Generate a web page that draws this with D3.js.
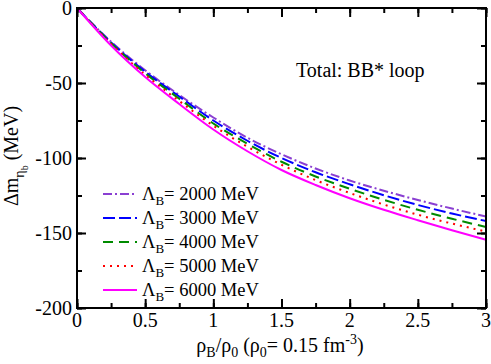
<!DOCTYPE html>
<html>
<head>
<meta charset="utf-8">
<script src="https://cdn.jsdelivr.net/npm/d3@7"></script>
<style>
  body { margin: 0; background: #fff; }
  svg text { font-family: "Liberation Serif", "Times New Roman", serif; fill: #000; }
  .axis path { display: none; }
  .axis line { stroke: #000; stroke-width: 2; }
  .curve { fill: none; stroke-width: 2; }
</style>
</head>
<body>
<div id="chart"></div>
<script>
// density rho_B/rho_0
var density = [0, 0.25, 0.5, 0.75, 1, 1.25, 1.5, 1.75, 2, 2.25, 2.5, 2.75, 3];

// mass shift (MeV) for each cutoff
var lambda2000 = [0, -22.5, -41.5, -58, -73, -86.5, -97.5, -107, -115, -121.8, -128, -133.7, -139];
var lambda3000 = [0, -23, -42.5, -59, -75, -88.5, -100, -109.5, -117.5, -124.8, -131.3, -137, -142];
var lambda4000 = [0, -23.5, -43.5, -60.5, -77, -90.5, -102.5, -112.3, -120.5, -127.9, -134.5, -140.5, -146];
var lambda5000 = [0, -24, -44.5, -62, -78.5, -92.5, -104.5, -114.7, -123.3, -131, -137.8, -143.7, -149];
var lambda6000 = [0, -25, -46, -64, -81, -95.5, -108, -118, -126.8, -134.5, -141.5, -148.2, -154.5];

var legendLabels = ['2000', '3000', '4000', '5000', '6000'];
var xTicks = [0, 0.5, 1, 1.5, 2, 2.5, 3];
var xTickLabels = ['0', '0.5', '1', '1.5', '2', '2.5', '3'];
var yTicks = [0, -50, -100, -150, -200];
var yTickLabels = ['0', '-50', '-100', '-150', '-200'];

var width = 491, height = 364,
    mLeft = 77, mRight = 486, mTop = 8, mBottom = 308;

var series = [
  {name: legendLabels[0], values: lambda2000, color: '#8a3fd2', dash: '9,3,2,3'},
  {name: legendLabels[1], values: lambda3000, color: '#0000ff', dash: '12,4'},
  {name: legendLabels[2], values: lambda4000, color: '#008b00', dash: '10,6'},
  {name: legendLabels[3], values: lambda5000, color: '#ff0000', dash: '2,5'},
  {name: legendLabels[4], values: lambda6000, color: '#ff00ff', dash: null}
];

var x = d3.scaleLinear().domain([0, 3]).range([mLeft, mRight]);
var y = d3.scaleLinear().domain([-200, 0]).range([mBottom, mTop]);

var svg = d3.select('#chart').append('svg')
    .attr('width', width)
    .attr('height', height);

// curves
var line = d3.line()
    .x(function (d, i) { return x(density[i]); })
    .y(function (d) { return y(d); })
    .curve(d3.curveMonotoneX);

svg.append('g').selectAll('path')
    .data(series)
    .enter().append('path')
    .attr('class', 'curve')
    .attr('d', function (d) { return line(d.values); })
    .attr('stroke', function (d) { return d.color; })
    .attr('stroke-dasharray', function (d) { return d.dash; });

// minor ticks, all four sides
var minorX = d3.range(0, 3.01, 0.25), minorY = d3.range(-200, 0.1, 25);
svg.append('g').attr('class', 'axis').attr('transform', 'translate(0,' + mBottom + ')')
    .call(d3.axisBottom(x).tickValues(minorX).tickSize(-5).tickFormat(''));
svg.append('g').attr('class', 'axis').attr('transform', 'translate(0,' + mTop + ')')
    .call(d3.axisTop(x).tickValues(minorX).tickSize(-5).tickFormat(''));
svg.append('g').attr('class', 'axis').attr('transform', 'translate(' + mLeft + ',0)')
    .call(d3.axisLeft(y).tickValues(minorY).tickSize(-5).tickFormat(''));
svg.append('g').attr('class', 'axis').attr('transform', 'translate(' + mRight + ',0)')
    .call(d3.axisRight(y).tickValues(minorY).tickSize(-5).tickFormat(''));

// major ticks
svg.append('g').attr('class', 'axis').attr('transform', 'translate(0,' + mBottom + ')')
    .call(d3.axisBottom(x).tickValues(xTicks).tickSize(-9).tickFormat(''));
svg.append('g').attr('class', 'axis').attr('transform', 'translate(0,' + mTop + ')')
    .call(d3.axisTop(x).tickValues(xTicks).tickSize(-9).tickFormat(''));
svg.append('g').attr('class', 'axis').attr('transform', 'translate(' + mLeft + ',0)')
    .call(d3.axisLeft(y).tickValues(yTicks).tickSize(-9).tickFormat(''));
svg.append('g').attr('class', 'axis').attr('transform', 'translate(' + mRight + ',0)')
    .call(d3.axisRight(y).tickValues(yTicks).tickSize(-9).tickFormat(''));

// tick labels
svg.append('g').selectAll('text')
    .data(xTicks)
    .enter().append('text')
    .attr('x', function (d) { return x(d); })
    .attr('y', mBottom + 19)
    .attr('text-anchor', 'middle')
    .attr('font-size', 20)
    .text(function (d, i) { return xTickLabels[i]; });

svg.append('g').selectAll('text')
    .data(yTicks)
    .enter().append('text')
    .attr('x', mLeft - 5)
    .attr('y', function (d) { return y(d) + 7; })
    .attr('text-anchor', 'end')
    .attr('font-size', 20)
    .text(function (d, i) { return yTickLabels[i]; });

// frame
svg.append('rect')
    .attr('x', mLeft).attr('y', mTop)
    .attr('width', mRight - mLeft).attr('height', mBottom - mTop)
    .attr('fill', 'none').attr('stroke', '#000').attr('stroke-width', 2);

// annotation
svg.append('text')
    .attr('x', 296).attr('y', 77)
    .attr('font-size', 20)
    .text('Total: BB* loop');

// x axis title
var xt = svg.append('text')
    .attr('x', 280).attr('y', 352)
    .attr('text-anchor', 'middle')
    .attr('font-size', 20);
xt.append('tspan').text('ρ');
xt.append('tspan').attr('font-size', 14).attr('dy', 5).text('B');
xt.append('tspan').attr('dy', -5).text('/ρ');
xt.append('tspan').attr('font-size', 14).attr('dy', 5).text('0');
xt.append('tspan').attr('dy', -5).text(' (ρ');
xt.append('tspan').attr('font-size', 14).attr('dy', 5).text('0');
xt.append('tspan').attr('dy', -5).text('= 0.15 fm');
xt.append('tspan').attr('font-size', 14).attr('dy', -8).text('-3');
xt.append('tspan').attr('dy', 8).text(')');

// y axis title
var yt = svg.append('text')
    .attr('transform', 'translate(18,156) rotate(-90)')
    .attr('text-anchor', 'middle')
    .attr('font-size', 20);
yt.append('tspan').text('Δm');
yt.append('tspan').attr('font-size', 14).attr('dy', 6).text('η');
yt.append('tspan').attr('font-size', 10).attr('dy', 4).text('b');
yt.append('tspan').attr('dy', -10).text(' (MeV)');

// legend
var legend = svg.append('g').selectAll('g')
    .data(series)
    .enter().append('g')
    .attr('transform', function (d, i) { return 'translate(0,' + (194 + i * 24) + ')'; });

legend.append('line')
    .attr('x1', 103).attr('x2', 137)
    .attr('stroke', function (d) { return d.color; })
    .attr('stroke-width', 2)
    .attr('stroke-dasharray', function (d) { return d.dash; });

var lt = legend.append('text')
    .attr('x', 142).attr('y', 6)
    .attr('font-size', 18.5);
lt.append('tspan').text('Λ');
lt.append('tspan').attr('font-size', 13).attr('dy', 5).text('B');
lt.append('tspan').attr('dy', -5).text(function (d) { return '= ' + d.name + ' MeV'; });
</script>
</body>
</html>
